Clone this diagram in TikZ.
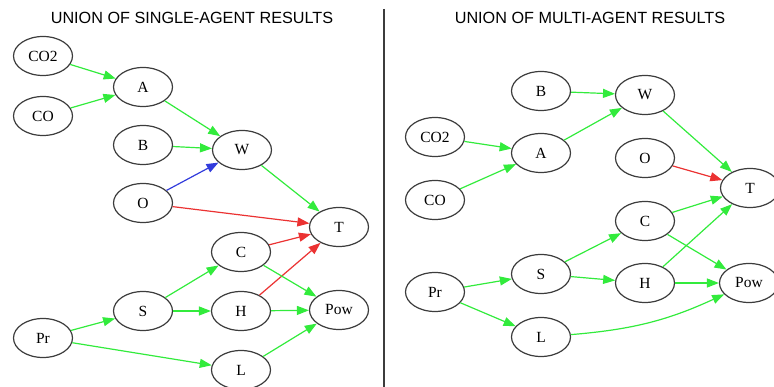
\documentclass[tikz,border=0pt]{standalone}
\usepackage{fontspec}
\setmainfont{Liberation Serif}
\setsansfont{Liberation Sans}
\usetikzlibrary{shapes.geometric,arrows.meta}
\definecolor{grn}{RGB}{50,235,60}
\definecolor{rd}{RGB}{235,50,50}
\definecolor{bl}{RGB}{50,60,220}
\definecolor{rim}{RGB}{60,60,60}
\begin{document}
\begin{tikzpicture}[x=1pt,y=-1pt,
  var/.style={ellipse, draw=rim, line width=1.2pt, inner sep=0pt,
    minimum width=59pt, minimum height=39pt, font=\fontsize{15.5}{18}\selectfont},
  edge/.style={line width=1.2pt, -{Triangle[length=12pt,width=9pt]}},
  title/.style={font=\sffamily\fontsize{16.2}{19}\selectfont}]
  \useasboundingbox (0,0) rectangle (774,387);
  % single-agent panel
  \node[title] (stitle) at (192,18) {UNION OF SINGLE-AGENT RESULTS};
  \foreach \n/\x/\y in {CO2/43/56,CO/43/116,A/143/87,B/143/145,W/242/150,O/143/203,
      T/339/227,C/241/252,S/143/311,H/241/311,Pow/339/310,Pr/43/338,L/241/370} {
    \node[var] (s\n) at (\x,\y) {\n};
  }
  \foreach \a/\b/\c in {CO2/A/grn,CO/A/grn,A/W/grn,B/W/grn,O/W/bl,W/T/grn,O/T/rd,
      C/T/rd,H/T/rd,C/Pow/grn,H/Pow/grn,S/C/grn,S/H/grn,Pr/S/grn,Pr/L/grn,L/Pow/grn} {
    \draw[edge,\c] (s\a) -- (s\b);
  }
  % divider
  \draw[line width=2pt, rim] (384,9) -- (384,387);
  % multi-agent panel
  \node[title] (mtitle) at (590,18) {UNION OF MULTI-AGENT RESULTS};
  \foreach \n/\x/\y in {B/541/91,W/645/95,CO2/435/137,A/541/153,O/645/158,T/750/188,
      CO/435/200,C/645/221,S/541/274,H/645/283,Pow/749/283,Pr/435/292,L/541/337} {
    \node[var] (m\n) at (\x,\y) {\n};
  }
  \foreach \a/\b/\c in {B/W/grn,A/W/grn,CO2/A/grn,CO/A/grn,W/T/grn,O/T/rd,C/T/grn,
      H/T/grn,C/Pow/grn,H/Pow/grn,S/C/grn,S/H/grn,Pr/S/grn,Pr/L/grn} {
    \draw[edge,\c] (m\a) -- (m\b);
  }
  \draw[edge,grn] (mL) to[bend right=10] (mPow);
\end{tikzpicture}
\end{document}
